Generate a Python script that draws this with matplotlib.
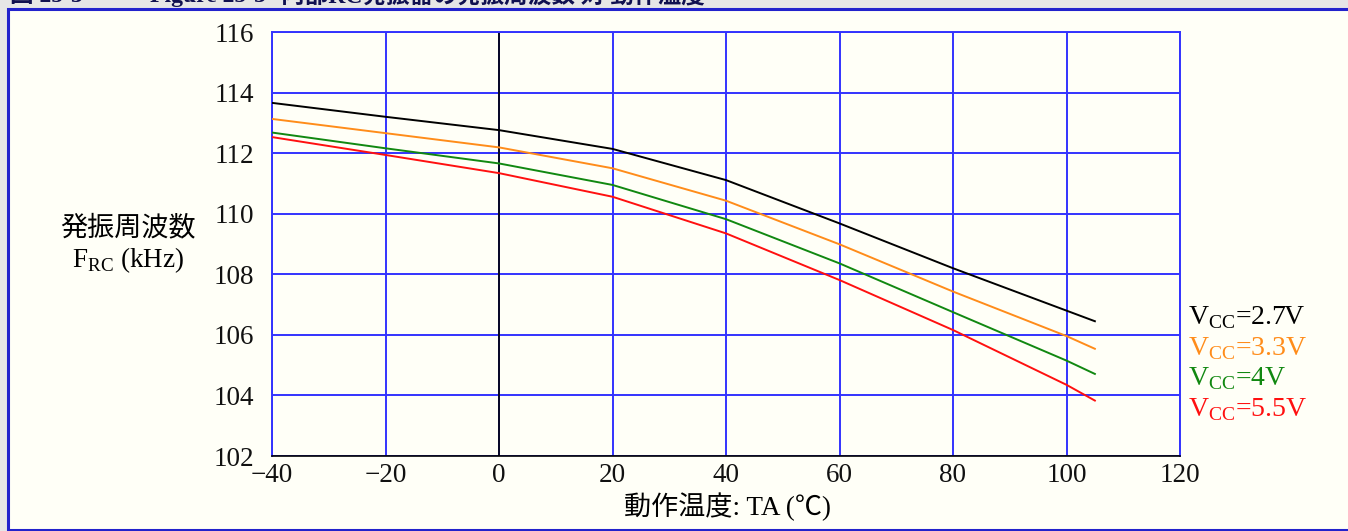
import numpy as np
import matplotlib
matplotlib.use('Agg')
import matplotlib.pyplot as plt
from matplotlib.patches import Rectangle

# Data
temps = [-40, -20, 0, 20, 40, 60, 80, 100, 105]
f_27 = [113.66, 113.20, 112.76, 112.14, 111.11, 109.68, 108.20, 106.80, 106.45]
f_33 = [113.13, 112.66, 112.19, 111.50, 110.43, 108.99, 107.43, 105.96, 105.54]
f_40 = [112.68, 112.16, 111.66, 110.95, 109.82, 108.36, 106.75, 105.15, 104.71]
f_55 = [112.53, 111.94, 111.34, 110.56, 109.35, 107.81, 106.16, 104.35, 103.83]
series_labels = ['V$_{\\rm CC}$=2.7V', 'V$_{\\rm CC}$=3.3V', 'V$_{\\rm CC}$=4V', 'V$_{\\rm CC}$=5.5V']
series_colors = ['black', '#FF8C1A', '#118811', '#FF1010']
x_ticks = [-40, -20, 0, 20, 40, 60, 80, 100, 120]
y_ticks = [102, 104, 106, 108, 110, 112, 114, 116]

FONTS = ['Liberation Serif', 'Noto Sans CJK JP']
plt.rcParams['font.family'] = FONTS
plt.rcParams['mathtext.fontset'] = 'custom'
plt.rcParams['mathtext.rm'] = 'Liberation Serif'

W, H = 1348, 531
fig = plt.figure(figsize=(W / 100, H / 100), dpi=100)
fig.patch.set_facecolor('#E6E6E6')

# framed panel behind everything
fig.patches.append(Rectangle((8 / W, 1 / H), 1.0, (H - 10) / H, transform=fig.transFigure,
                             facecolor='#FFFFF7', edgecolor='#2222CC', linewidth=2.2, zorder=-5))

# cut-off caption at the very top (only the lower part of the glyphs shows)
cap = dict(color='#101050', fontsize=17, fontweight='bold', va='baseline')
fig.text(10 / W, (H - 2) / H, '図 25-3', **cap)
fig.text(150 / W, (H - 2) / H, 'Figure 25-3', **cap)
fig.text(281 / W, (H - 2) / H, '内部RC発振器の発振周波数 対 動作温度', **cap)

ax = fig.add_axes([272 / W, 75 / H, 908 / W, 424 / H])
ax.set_facecolor('#FFFFF7')
ax.set_zorder(1)

for ys, col in zip([f_27, f_33, f_40, f_55], series_colors):
    ax.plot(temps, ys, color=col, linewidth=1.4, zorder=3)

ax.set_xlim(-40, 120)
ax.set_ylim(102, 116)
ax.set_xticks(x_ticks)
ax.set_yticks(y_ticks)
ax.set_xticklabels([str(v).replace('-', '\u2212') for v in x_ticks])
ax.set_yticklabels([str(v) for v in y_ticks])
ax.tick_params(length=0, labelsize=19.5, colors='#111111')
ax.tick_params(axis='y', pad=13)
ax.tick_params(axis='x', pad=5)
ax.grid(True, color='#3333FF', linewidth=1.4)
ax.axvline(0, color='black', linewidth=1.2, zorder=2)
for side in ['left', 'right', 'top']:
    ax.spines[side].set_color('#3333FF')
    ax.spines[side].set_linewidth(1.4)
ax.spines['bottom'].set_color('black')
ax.spines['bottom'].set_linewidth(1.2)

# axis labels
fig.text(128 / W, 1 - 228 / H, '発振周波数', ha='center', va='center', fontsize=19.5)
fig.text(128 / W, 1 - 260 / H, 'F$_{\\rm RC}$ (kHz)', ha='center', va='center', fontsize=19.5)
fig.text(727 / W, 1 - 507 / H, '動作温度: TA (℃)', ha='center', va='center', fontsize=19.5)

# series labels at the right
for i, (lab, col) in enumerate(zip(series_labels, series_colors)):
    fig.text(1188 / W, 1 - (318 + 30.5 * i) / H, lab, color=col, ha='left', va='center', fontsize=20)

fig.savefig('out.png', dpi=100, facecolor=fig.get_facecolor())
